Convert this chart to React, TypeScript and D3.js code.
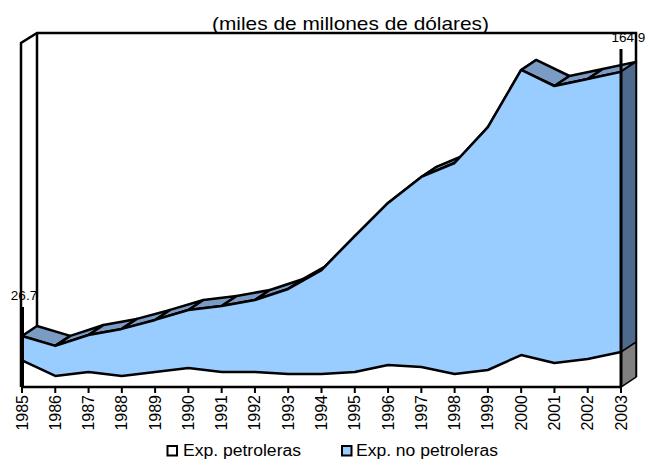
import React from 'react';
import * as d3 from 'd3';

const years = ['1985','1986','1987','1988','1989','1990','1991','1992','1993','1994','1995','1996','1997','1998','1999','2000','2001','2002','2003'];
const petroleras = [13.9,5.8,7.8,5.8,7.8,9.9,7.8,7.8,6.8,6.8,7.8,11.5,10.5,6.8,8.9,16.7,12.6,14.7,18.3];
const noPetroleras = [12.8,15.7,19.4,24.6,27.3,30.4,34.6,37.7,44.5,54.4,71.2,84.8,99.4,110.4,127.1,149.2,144.9,146.5,146.6];
const labels = [{ i: 0, text: '26.7' }, { i: 18, text: '164.9' }];

const W = 645;
const H = 460;
const left = 22;
const right = 621;
const top = 43;
const bottom = 387;
// depth of the fake 3D box
const dx = 15;
const dy = -10;
const font = '"Liberation Sans", Arial, sans-serif';

export default function App() {
  const x = d3.scalePoint<string>().domain(years).range([left, right]);
  const y = d3.scaleLinear().domain([0, 180]).range([bottom, top]);

  const totals = years.map((_, i) => petroleras[i] + noPetroleras[i]);
  const px = (i: number) => x(years[i]) as number;

  const areaOil = d3.area<number>().x((_, i) => px(i)).y0(bottom).y1((d) => y(d));
  const areaRest = d3.area<number>().x((_, i) => px(i)).y0((_, i) => y(petroleras[i])).y1((d) => y(d));
  const line = d3.line<number>().x((_, i) => px(i)).y((d) => y(d));

  const last = years.length - 1;
  const xEnd = px(last);

  return (
    <svg width={W} height={H} style={{ position: 'absolute', left: 0, top: 0 }} fontFamily={font}>
      <rect width={W} height={H} fill="#fff" />
      <text x={212} y={30} fontSize={18.5} textLength={277} lengthAdjust="spacingAndGlyphs">(miles de millones de dólares)</text>

      {/* walls */}
      <path d={`M${left - 1},${bottom}V${top}L${left + dx},${top + dy}H${right + dx}V${bottom + dy}`} fill="none" stroke="#000" strokeWidth={2.5} />
      <line x1={left + dx} x2={left + dx} y1={top + dy} y2={y(totals[0]) + dy} stroke="#000" strokeWidth={2.5} />

      {/* top faces */}
      {totals.slice(0, -1).map((t, i) => (
        <path key={i} d={`M${px(i)},${y(t)}L${px(i + 1)},${y(totals[i + 1])}l${dx},${dy}L${px(i) + dx},${y(t) + dy}Z`} fill="#7a9cc4" stroke="#000" strokeWidth={2.5} strokeLinejoin="round" />
      ))}

      {/* right side */}
      <path d={`M${xEnd},${y(totals[last])}l${dx},${dy}V${y(petroleras[last]) + dy}L${xEnd},${y(petroleras[last])}Z`} fill="#4d6a8c" stroke="#000" strokeWidth={1.5} />
      <path d={`M${xEnd},${y(petroleras[last])}l${dx},${dy}V${bottom + dy}L${xEnd},${bottom}Z`} fill="#808080" stroke="#000" strokeWidth={1.5} />

      {/* front */}
      <path d={areaRest(totals) ?? ''} fill="#99ccff" />
      <path d={areaOil(petroleras) ?? ''} fill="#fff" />
      <path d={line(totals) ?? ''} fill="none" stroke="#000" strokeWidth={2.5} strokeLinejoin="round" />
      <path d={line(petroleras) ?? ''} fill="none" stroke="#000" strokeWidth={2.5} strokeLinejoin="round" />

      {/* leader lines at both ends */}
      <line x1={left + 0.5} x2={left + 0.5} y1={307} y2={bottom} stroke="#000" strokeWidth={3} />
      <line x1={xEnd} x2={xEnd} y1={49} y2={bottom} stroke="#000" strokeWidth={3} />

      {/* x axis */}
      <line x1={left - 1} x2={xEnd + 1} y1={bottom} y2={bottom} stroke="#000" strokeWidth={2.5} />
      {years.map((yr, i) => (
        <g key={yr} transform={`translate(${px(i)},${bottom})`}>
          <line y2={6} stroke="#000" strokeWidth={2} />
          <text transform="translate(5.5,8) rotate(-90)" textAnchor="end" fontSize={16}>{yr}</text>
        </g>
      ))}

      {/* data labels */}
      {labels.map((l) => (
        <text key={l.text} x={l.i === 0 ? 24 : 628.5} y={l.i === 0 ? 300 : 42} textAnchor="middle" fontSize={13.5}>{l.text}</text>
      ))}

      {/* legend */}
      <rect x={167.5} y={446} width={9.5} height={9.5} fill="#fff" stroke="#000" strokeWidth={2} />
      <text x={183} y={456} fontSize={16} textLength={118} lengthAdjust="spacingAndGlyphs">Exp. petroleras</text>
      <rect x={342} y={446} width={9.5} height={9.5} fill="#99ccff" stroke="#000" strokeWidth={2} />
      <text x={356} y={456} fontSize={16} textLength={142} lengthAdjust="spacingAndGlyphs">Exp. no petroleras</text>
    </svg>
  );
}
